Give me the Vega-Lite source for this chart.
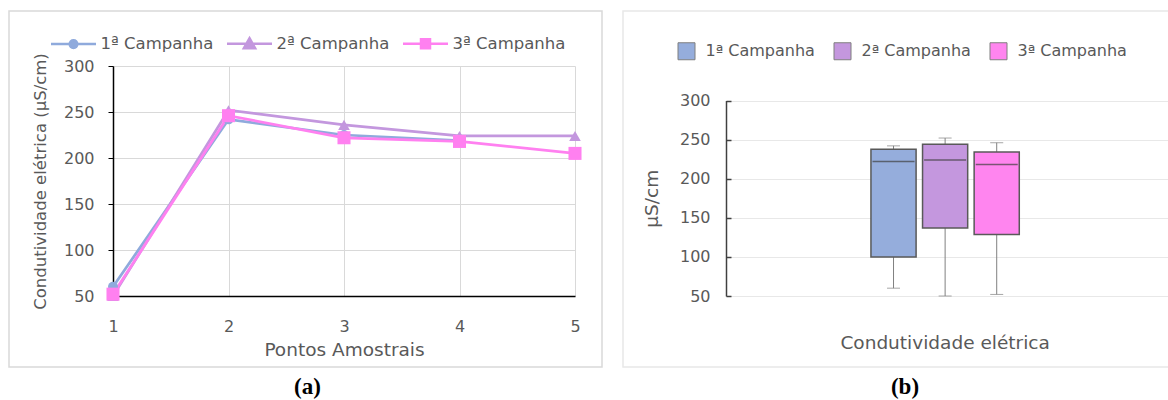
{
  "$schema": "https://vega.github.io/schema/vega-lite/v6.json",
  "background": "white",
  "padding": {"left": 8, "top": 10, "right": 0, "bottom": 0},
  "spacing": 19,
  "config": {
    "font": "DejaVu Sans",
    "axis": {
      "labelFont": "DejaVu Sans",
      "titleFont": "DejaVu Sans",
      "labelColor": "#595959",
      "titleColor": "#595959",
      "titleFontWeight": "normal",
      "labelFontSize": 16
    },
    "legend": {"labelFont": "DejaVu Sans", "labelColor": "#595959", "labelFontSize": 16.5, "padding": 0},
    "title": {
      "font": "Liberation Serif",
      "fontSize": 23,
      "fontWeight": "bold",
      "color": "#000000",
      "orient": "bottom",
      "anchor": "middle",
      "offset": 9
    }
  },
  "datasets": {
    "pontos": [
      {"campanha": "1ª Campanha", "ponto": 1, "valor": 60},
      {"campanha": "1ª Campanha", "ponto": 2, "valor": 242},
      {"campanha": "1ª Campanha", "ponto": 3, "valor": 225},
      {"campanha": "1ª Campanha", "ponto": 4, "valor": 219},
      {"campanha": "2ª Campanha", "ponto": 1, "valor": 50},
      {"campanha": "2ª Campanha", "ponto": 2, "valor": 252},
      {"campanha": "2ª Campanha", "ponto": 3, "valor": 236},
      {"campanha": "2ª Campanha", "ponto": 4, "valor": 224},
      {"campanha": "2ª Campanha", "ponto": 5, "valor": 224},
      {"campanha": "3ª Campanha", "ponto": 1, "valor": 52},
      {"campanha": "3ª Campanha", "ponto": 2, "valor": 246},
      {"campanha": "3ª Campanha", "ponto": 3, "valor": 222},
      {"campanha": "3ª Campanha", "ponto": 4, "valor": 218},
      {"campanha": "3ª Campanha", "ponto": 5, "valor": 205}
    ],
    "caixas": [
      {"parametro": "Condutividade elétrica", "campanha": "1ª Campanha", "minimo": 60, "q1": 99.75, "mediana": 222, "q3": 237.75, "maximo": 242},
      {"parametro": "Condutividade elétrica", "campanha": "2ª Campanha", "minimo": 50, "q1": 137, "mediana": 224, "q3": 244, "maximo": 252},
      {"parametro": "Condutividade elétrica", "campanha": "3ª Campanha", "minimo": 52, "q1": 128.5, "mediana": 218, "q3": 234, "maximo": 246}
    ]
  },
  "resolve": {"scale": {"color": "independent"}, "legend": {"color": "independent"}},
  "hconcat": [
    {
      "width": 593,
      "height": 356,
      "view": {"stroke": "#d9d9d9", "strokeWidth": 1.5},
      "title": {"text": "(a)", "dx": 2},
      "data": {"name": "pontos"},
      "resolve": {"axis": {"x": "independent"}},
      "encoding": {
        "y": {
          "field": "valor",
          "type": "quantitative",
          "scale": {"domain": [50, 300], "range": [285, 55], "nice": false, "zero": false},
          "axis": {
            "offset": -104,
            "values": [50, 100, 150, 200, 250, 300],
            "title": "Condutividade elétrica (µS/cm)",
            "titleFontSize": 16.5,
            "titlePadding": 15,
            "tickSize": 5,
            "tickColor": "#000000",
            "labelPadding": 14,
            "domainColor": "#000000",
            "domainWidth": 1.5,
            "grid": true,
            "gridColor": "#d9d9d9",
            "gridWidth": 1
          }
        },
        "color": {
          "field": "campanha",
          "type": "nominal",
          "scale": {
            "domain": ["1ª Campanha", "2ª Campanha", "3ª Campanha"],
            "range": ["#8faadc", "#c397de", "#ff80f0"]
          },
          "legend": {
            "orient": "none",
            "legendX": 40.5,
            "legendY": 8.5,
            "direction": "horizontal",
            "title": null,
            "symbolSize": 2025,
            "symbolStrokeWidth": 2.5,
            "labelOffset": 3,
            "columnPadding": 8,
            "encode": {
              "symbols": {
                "update": {
                  "shape": {"signal": "datum.value === '1ª Campanha' ? 'M-1,0H1M0.17,0A0.17,0.17 0 1,1 -0.17,0A0.17,0.17 0 1,1 0.17,0' : datum.value === '2ª Campanha' ? 'M-1,0H1M0,-0.25L0.25,0.19L-0.25,0.19Z' : 'M-1,0H1M-0.2,-0.2H0.2V0.2H-0.2Z'"},
                  "fill": {"signal": "datum.value === '1ª Campanha' ? '#8faadc' : datum.value === '2ª Campanha' ? '#c397de' : '#ff80f0'"},
                  "stroke": {"signal": "datum.value === '1ª Campanha' ? '#8faadc' : datum.value === '2ª Campanha' ? '#c397de' : '#ff80f0'"},
                  "opacity": {"value": 1}
                }
              }
            }
          }
        }
      },
      "layer": [
        {
          "mark": {"type": "line", "strokeWidth": 2.75},
          "encoding": {
            "x": {
              "field": "ponto",
              "type": "quantitative",
              "scale": {"domain": [1, 5], "range": [104, 566], "nice": false, "zero": false},
              "axis": {
                "orient": "top",
                "values": [1, 2, 3, 4, 5],
                "title": null,
                "labels": false,
                "ticks": false,
                "domain": false,
                "grid": true,
                "gridColor": "#d9d9d9",
                "gridWidth": 1
              }
            }
          }
        },
        {
          "mark": {"type": "point", "filled": true, "opacity": 1, "strokeWidth": 0},
          "encoding": {
            "x": {
              "field": "ponto",
              "type": "quantitative",
              "scale": {"domain": [1, 5], "range": [104, 566], "nice": false, "zero": false},
              "axis": {
                "orient": "bottom",
                "offset": -71,
                "values": [1, 2, 3, 4, 5],
                "format": "d",
                "title": "Pontos Amostrais",
                "titleFontSize": 18.5,
                "titlePadding": 6,
                "ticks": false,
                "tickSize": 0,
                "labelPadding": 22,
                "labelFlush": false,
                "domainColor": "#000000",
                "domainWidth": 1.5,
                "grid": false
              }
            },
            "shape": {
              "field": "campanha",
              "type": "nominal",
              "scale": {"domain": ["1ª Campanha", "2ª Campanha", "3ª Campanha"], "range": ["circle", "triangle-up", "square"]},
              "legend": null
            },
            "size": {
              "field": "campanha",
              "type": "nominal",
              "scale": {"domain": ["1ª Campanha", "2ª Campanha", "3ª Campanha"], "range": [100, 170, 160]},
              "legend": null
            }
          }
        }
      ]
    },
    {
      "width": 548,
      "height": 356,
      "view": {"stroke": "#e8e8e8", "strokeWidth": 1.5},
      "title": {"text": "(b)", "dx": 8},
      "data": {"name": "caixas"},
      "encoding": {
        "x": {
          "field": "parametro",
          "type": "nominal",
          "scale": {"range": [103, 548], "paddingInner": 0, "paddingOuter": 1.1123, "align": 0.4886},
          "axis": {
            "orient": "bottom",
            "offset": -71,
            "title": null,
            "domain": false,
            "ticks": false,
            "grid": false,
            "labelAngle": 0,
            "labelFontSize": 18.5,
            "labelPadding": 37,
            "labelLimit": 0
          }
        },
        "xOffset": {
          "field": "campanha",
          "type": "nominal",
          "scale": {"domain": ["1ª Campanha", "2ª Campanha", "3ª Campanha"], "paddingInner": 0.125, "paddingOuter": 0}
        }
      },
      "layer": [
        {
          "mark": {"type": "rule", "color": "#808080", "strokeWidth": 1},
          "encoding": {
            "y": {
              "field": "minimo",
              "type": "quantitative",
              "title": "µS/cm",
              "scale": {"domain": [50, 300], "range": [285, 89.5], "nice": false, "zero": false},
              "axis": {
                "offset": -103,
                "values": [50, 100, 150, 200, 250, 300],
                "title": "µS/cm",
                "titleFontSize": 18.5,
                "titlePadding": 18,
                "tickSize": -5,
                "tickColor": "#404040",
                "tickWidth": 1.5,
                "labelPadding": 21,
                "domainColor": "#404040",
                "domainWidth": 1.5,
                "grid": true,
                "gridColor": "#e8e8e8",
                "gridWidth": 1
              }
            },
            "y2": {"field": "maximo"}
          }
        },
        {
          "mark": {"type": "tick", "color": "#808080", "size": 13, "thickness": 1},
          "encoding": {
            "y": {"field": "minimo", "type": "quantitative", "title": "µS/cm", "scale": {"domain": [50, 300], "range": [285, 89.5], "nice": false, "zero": false}}
          }
        },
        {
          "mark": {"type": "tick", "color": "#808080", "size": 13, "thickness": 1},
          "encoding": {
            "y": {"field": "maximo", "type": "quantitative", "title": "µS/cm", "scale": {"domain": [50, 300], "range": [285, 89.5], "nice": false, "zero": false}}
          }
        },
        {
          "mark": {"type": "bar", "stroke": "#595959", "strokeWidth": 1.5, "opacity": 1},
          "encoding": {
            "y": {"field": "q1", "type": "quantitative", "title": "µS/cm", "scale": {"domain": [50, 300], "range": [285, 89.5], "nice": false, "zero": false}},
            "y2": {"field": "q3"},
            "color": {
              "field": "campanha",
              "type": "nominal",
              "scale": {
                "domain": ["1ª Campanha", "2ª Campanha", "3ª Campanha"],
                "range": ["#95addc", "#c497de", "#ff85ef"]
              },
              "legend": {
                "orient": "none",
                "legendX": 54.5,
                "legendY": 31,
                "direction": "horizontal",
                "title": null,
                "symbolType": "square",
                "symbolSize": 289,
                "symbolStrokeColor": "#7f7f7f",
                "symbolStrokeWidth": 1,
                "symbolOpacity": 1,
                "labelFontSize": 16,
                "labelOffset": 10,
                "columnPadding": 16
              }
            }
          }
        },
        {
          "mark": {"type": "tick", "color": "#404040", "size": 42, "thickness": 1.5},
          "encoding": {
            "y": {"field": "mediana", "type": "quantitative", "title": "µS/cm", "scale": {"domain": [50, 300], "range": [285, 89.5], "nice": false, "zero": false}}
          }
        }
      ]
    }
  ]
}
